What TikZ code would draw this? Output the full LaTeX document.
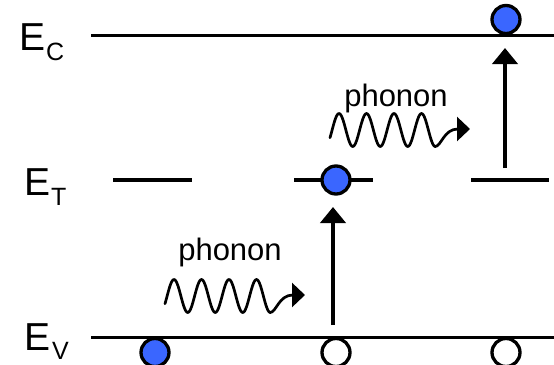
\documentclass[tikz,border=0pt]{standalone}
\usepackage{fontspec}
\setmainfont{Liberation Sans}
\usetikzlibrary{arrows.meta}
\definecolor{carrier}{HTML}{3A66FF}
\tikzset{
  level/.style={line width=3.6pt},
  elec/.style={circle, draw=black, line width=3.3pt, fill=carrier, minimum size=28pt, inner sep=0pt},
  hole/.style={circle, draw=black, line width=3.3pt, fill=white, minimum size=28pt, inner sep=0pt},
  bigE/.style={anchor=base west, inner sep=0pt, font=\fontsize{39}{39}\selectfont},
  subs/.style={anchor=base west, inner sep=0pt, font=\fontsize{25}{25}\selectfont},
  phlabel/.style={anchor=base, inner sep=0pt, font=\fontsize{31}{31}\selectfont},
  wave/.style={line width=2.7pt, line cap=round, line join=round},
  uparrow/.style={line width=4pt, -{Triangle[length=16pt,width=25pt]}},
}
\begin{document}
\begin{tikzpicture}[x=1pt,y=-1pt]
\path[use as bounding box] (0,0) rectangle (554,364);
\clip (0,0) rectangle (554,364);
% labels
\node[bigE] (ec) at (19,50) {E};
\node[subs] (ecs) at (46,60) {C};
\node[bigE] (et) at (24,195) {E};
\node[subs] (ets) at (51,205.5) {T};
\node[bigE] (ev) at (24,350) {E};
\node[subs] (evs) at (52,359.5) {V};
% levels
\coordinate (c1) at (91,35.5);
\coordinate (c2) at (556,35.5);
\coordinate (v1) at (91,337.5);
\coordinate (v2) at (556,337.5);
\coordinate (t1a) at (113,180);
\coordinate (t1b) at (192,180);
\coordinate (t2a) at (294,180);
\coordinate (t2b) at (373,180);
\coordinate (t3a) at (471,180);
\coordinate (t3b) at (549,180);
\draw[level] (c1) -- (c2);
\draw[level] (v1) -- (v2);
\draw[level] (t1a) -- (t1b);
\draw[level] (t2a) -- (t2b);
\draw[level] (t3a) -- (t3b);
% carriers
\node[elec] (etop) at (506,19.5) {};
\node[elec] (emid) at (336,180) {};
\node[elec] (ebot) at (155,352.5) {};
\node[hole] (h1) at (336,352.5) {};
\node[hole] (h2) at (506,352.5) {};
% transitions
\coordinate (a1s) at (333,325);
\coordinate (a1e) at (333,207);
\coordinate (a2s) at (505,168);
\coordinate (a2e) at (505,48);
\draw[uparrow] (a1s) -- (a1e);
\draw[uparrow] (a2s) -- (a2e);
% phonons
\node[phlabel] (ph1) at (230,260) {phonon};
\node[phlabel] (ph2) at (396,106) {phonon};
\begin{scope}[shift={(165,296)}]
\draw[wave, -{Triangle[length=13pt,width=24pt]}]
  plot[domain=0:105.25, samples=120, smooth] (\x, {-16.5*cos((\x-9)*13.0909)})
  .. controls (111,16.5) and (114,-1) .. (140,-1);
\end{scope}
\begin{scope}[shift={(330,130)}]
\draw[wave, -{Triangle[length=13pt,width=24pt]}]
  plot[domain=0:105.25, samples=120, smooth] (\x, {-16.5*cos((\x-9)*13.0909)})
  .. controls (111,16.5) and (114,-1) .. (140,-1);
\end{scope}
\end{tikzpicture}
\end{document}
